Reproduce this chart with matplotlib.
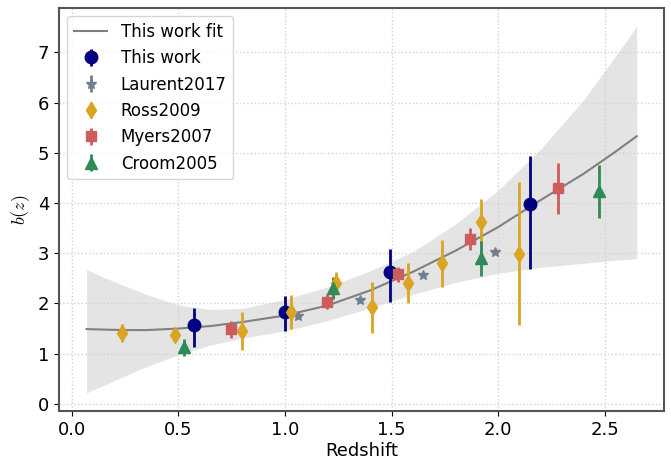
import matplotlib
matplotlib.use("Agg")
import matplotlib.pyplot as plt

plt.rcParams["mathtext.fontset"] = "cm"

# fitted bias curve and its confidence band
fit_z = [0.07, 0.15, 0.25, 0.35, 0.5, 0.65, 0.8, 1.0, 1.2, 1.4, 1.6, 1.8,
         2.0, 2.2, 2.4, 2.55, 2.65]
fit_b = [1.49, 1.48, 1.47, 1.47, 1.50, 1.55, 1.63, 1.76, 1.96, 2.26, 2.63,
         3.05, 3.52, 4.06, 4.58, 5.02, 5.33]
fit_hi = [2.68, 2.52, 2.35, 2.18, 1.97, 1.88, 1.90, 2.08, 2.33, 2.65, 3.03,
          3.58, 4.25, 5.08, 6.05, 6.92, 7.52]
fit_lo = [0.22, 0.37, 0.56, 0.74, 0.98, 1.17, 1.31, 1.45, 1.66, 1.91, 2.18,
          2.42, 2.60, 2.72, 2.80, 2.86, 2.89]

# this work
tw_z = [0.575, 1.0, 1.495, 2.15]
tw_b = [1.57, 1.83, 2.62, 3.98]
tw_lo = [0.44, 0.38, 0.59, 1.29]
tw_hi = [0.34, 0.32, 0.46, 0.95]

# literature measurements
laurent_z = [1.06, 1.35, 1.648, 1.987]
laurent_b = [1.75, 2.06, 2.57, 3.03]
laurent_err = [0.05, 0.05, 0.05, 0.05]

ross_z = [0.237, 0.487, 0.798, 1.027, 1.24, 1.408, 1.578, 1.737, 1.919, 2.097]
ross_b = [1.41, 1.37, 1.45, 1.83, 2.40, 1.92, 2.41, 2.80, 3.63, 2.99]
ross_err = [0.18, 0.12, 0.38, 0.33, 0.22, 0.50, 0.40, 0.47, 0.45, 1.42]

myers_z = [0.749, 1.198, 1.53, 1.869, 2.28]
myers_b = [1.49, 2.03, 2.58, 3.28, 4.29]
myers_err = [0.17, 0.15, 0.15, 0.22, 0.50]

croom_z = [0.525, 1.225, 1.919, 2.475]
croom_b = [1.13, 2.30, 2.90, 4.23]
croom_err = [0.17, 0.22, 0.35, 0.53]

fig, ax = plt.subplots(figsize=(6.71, 4.61), dpi=100)
fig.subplots_adjust(left=0.088, right=0.99, bottom=0.108, top=0.983)

ax.fill_between(fit_z, fit_lo, fit_hi, color="lightgray", alpha=0.6, lw=0)
ax.plot(fit_z, fit_b, color="gray", lw=1.5, label="This work fit")

ax.errorbar(tw_z, tw_b, yerr=[tw_lo, tw_hi], fmt="o", color="navy",
            ms=9, elinewidth=2, capsize=0, label="This work")
ax.errorbar(laurent_z, laurent_b, yerr=laurent_err, fmt="*", color="slategray",
            ms=7, elinewidth=2, capsize=0, label="Laurent2017")
ax.errorbar(ross_z, ross_b, yerr=ross_err, fmt="d", color="goldenrod",
            ms=8, elinewidth=2, capsize=0, label="Ross2009")
ax.errorbar(myers_z, myers_b, yerr=myers_err, fmt="s", color="indianred",
            ms=7, elinewidth=2, capsize=0, label="Myers2007")
ax.errorbar(croom_z, croom_b, yerr=croom_err, fmt="^", color="seagreen",
            ms=8, elinewidth=2, capsize=0, label="Croom2005")

ax.set_xlabel("Redshift", fontsize=13, labelpad=2)
ax.set_ylabel("$b(z)$", fontsize=13)
ax.tick_params(labelsize=13)
ax.grid(True, ls=":", color="lightgray", lw=1)
for s in ax.spines.values():
    s.set_color("#555555")
    s.set_linewidth(1.5)

ax.legend(loc="upper left", fontsize=12)

fig.savefig("out.png", dpi=100)
